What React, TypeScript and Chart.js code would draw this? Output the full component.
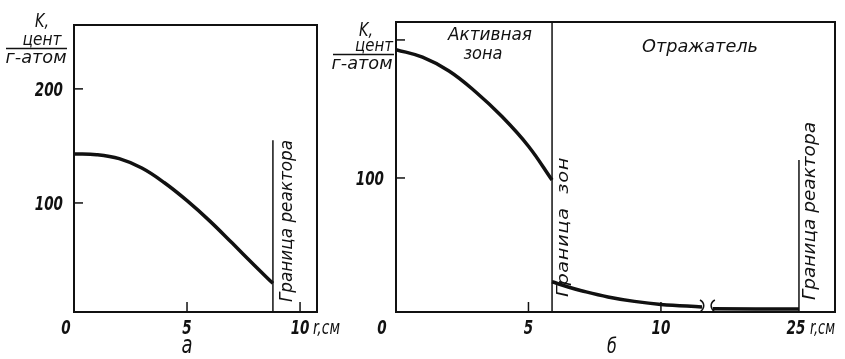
import React, { useEffect, useRef } from 'react';
import { Chart, registerables } from 'chart.js';
Chart.register(...registerables);

// ---------- Panel а ----------
const rA = [0, 1, 2, 3, 4, 5, 6, 7, 8, 8.8];
const kA = [143, 142.3, 138.8, 130.6, 117.7, 102, 84.3, 64.8, 45, 29.5];
const reactorEdgeA = 8.8;
const reactorEdgeATop = 155;
const yTicksA = [100, 200];
const yTickLabelsA = ['100', '200'];
const xTicksA = [0, 5, 10];
const xTickLabelsA = ['0', '5', '10'];

// ---------- Panel б ----------
const rCore = [0, 1, 2, 3, 4, 5, 5.89];
const kCore = [193, 187.5, 177.5, 162.5, 144.5, 123, 98.5];
const rRefl = [5.89, 6.5, 7, 8, 9, 10, 11.55];
const kRefl = [24.8, 21, 18.3, 13.8, 10.6, 8.4, 6.6];
const rReflFar = [21.75, 25];
const kReflFar = [5.3, 5];
const zoneEdge = 5.89;
const reactorEdgeB = 25;
const reactorEdgeBTop = 113;
const yTicksB = [100, 200];
const yTickLabelsB = ['100', ''];
const xTicksB = [0, 5, 10, 25];
const xTickLabelsB = ['0', '5', '10', '25'];
const breakFrom = 11.55;
const breakTo = 21.75;
const breakGap = 0.41;

const disp = (r: number) => (r <= breakFrom ? r : r - (breakTo - breakFrom) + breakGap);

const FONT = '"DejaVu Sans Condensed", "DejaVu Sans", "Liberation Sans", sans-serif';

type TOpts = { w?: number; align?: CanvasTextAlign; rot?: number; sx?: number; ls?: number; weight?: string };

function txt(ctx: CanvasRenderingContext2D, s: string, x: number, y: number, size: number, o: TOpts = {}) {
  const { w, align = 'center', rot = 0, sx = 0.85, ls = 0, weight = 'normal' } = o;
  ctx.save();
  ctx.font = `italic ${weight} ${size}px ${FONT}`;
  try { (ctx as any).fontStretch = 'condensed'; } catch (e) {}
  try { (ctx as any).letterSpacing = `${ls}px`; } catch (e) {}
  ctx.fillStyle = '#111';
  ctx.textBaseline = 'alphabetic';
  ctx.textAlign = align;
  ctx.translate(x, y);
  if (rot) ctx.rotate(rot);
  if (w) {
    const m = ctx.measureText(s).width;
    ctx.scale(w / m, 1);
  } else {
    ctx.scale(sx, 1);
  }
  ctx.fillText(s, 0, 0);
  ctx.restore();
}

function num(ctx: CanvasRenderingContext2D, s: string, x: number, y: number, align: CanvasTextAlign = 'center') {
  txt(ctx, s, x, y, 20, { align, sx: 0.75, weight: 'bold' });
}

function line(ctx: CanvasRenderingContext2D, x1: number, y1: number, x2: number, y2: number, lw = 1.5) {
  ctx.save();
  ctx.strokeStyle = '#111';
  ctx.lineWidth = lw;
  ctx.beginPath();
  ctx.moveTo(x1, y1);
  ctx.lineTo(x2, y2);
  ctx.stroke();
  ctx.restore();
}

const curveStyle = {
  borderColor: '#111',
  borderWidth: 3.5,
  pointRadius: 0,
  tension: 0.4,
  fill: false,
};
const thinStyle = {
  borderColor: '#111',
  borderWidth: 1.5,
  pointRadius: 0,
  fill: false,
};

function frame(ctx: CanvasRenderingContext2D, ca: any) {
  ctx.save();
  ctx.strokeStyle = '#111';
  ctx.lineWidth = 2;
  ctx.strokeRect(ca.left, ca.top, ca.right - ca.left, ca.bottom - ca.top);
  ctx.restore();
}

const pluginA = {
  id: 'decorA',
  afterDraw(chart: any) {
    const { ctx, chartArea: ca, scales } = chart;
    const x = scales.x, y = scales.y;
    frame(ctx, ca);
    yTicksA.forEach((v, i) => {
      const py = y.getPixelForValue(v);
      line(ctx, ca.left, py, ca.left + 9, py, 1.5);
      num(ctx, yTickLabelsA[i], ca.left - 11, py + 7, 'right');
    });
    xTicksA.forEach((v, i) => {
      const px = x.getPixelForValue(v);
      if (v > 0) line(ctx, px, ca.bottom, px, ca.bottom - 10, 1.5);
      const cx = v === 0 ? px - 8 : px;
      num(ctx, xTickLabelsA[i], cx, 334);
    });
    txt(ctx, 'r,см', x.getPixelForValue(10) + 13, 334, 19, { align: 'left', w: 27 });
    txt(ctx, 'а', x.getPixelForValue(5), 353, 25, { sx: 0.8 });
    // axis title
    txt(ctx, 'K,', 35, 27, 20, { align: 'left', sx: 0.8 });
    txt(ctx, 'цент', 42, 45, 17, { w: 39 });
    line(ctx, 6, 48.5, 67, 48.5, 1.5);
    txt(ctx, 'г-атом', 36, 63, 17, { w: 61 });
    // reactor edge label
    const bx = x.getPixelForValue(reactorEdgeA);
    txt(ctx, 'Граница реактора', bx + 19, 221, 17, { w: 162, rot: -Math.PI / 2 });
  },
};

const pluginB = {
  id: 'decorB',
  afterDraw(chart: any) {
    const { ctx, chartArea: ca, scales } = chart;
    const x = scales.x, y = scales.y;
    frame(ctx, ca);
    yTicksB.forEach((v, i) => {
      const py = y.getPixelForValue(v);
      line(ctx, ca.left, py, ca.left + 9, py, 1.5);
      if (yTickLabelsB[i]) num(ctx, yTickLabelsB[i], ca.left - 12, py + 7, 'right');
    });
    xTicksB.forEach((v, i) => {
      const px = x.getPixelForValue(disp(v));
      if (v > 0 && v < 25) line(ctx, px, ca.bottom, px, ca.bottom - 10, 1.5);
      const cx = v === 0 ? px - 14 : px - (v === 25 ? 3 : 0);
      num(ctx, xTickLabelsB[i], cx, 334);
    });
    txt(ctx, 'r,см', x.getPixelForValue(disp(25)) + 11, 334, 19, { align: 'left', w: 25 });
    txt(ctx, 'б', 612 - 330, 353, 22, { sx: 0.8 });
    // axis title
    txt(ctx, 'K,', 29, 36, 20, { align: 'left', sx: 0.8 });
    txt(ctx, 'цент', 44, 51, 17, { w: 38 });
    line(ctx, 3, 54.5, 64, 54.5, 1.5);
    txt(ctx, 'г-атом', 32, 69, 17, { w: 61 });
    // break marks
    const b1 = x.getPixelForValue(breakFrom);
    const b2 = x.getPixelForValue(breakFrom + breakGap);
    [[b1, 1], [b2, -1]].forEach(([bx, d]) => {
      ctx.save();
      ctx.strokeStyle = '#111';
      ctx.lineWidth = 1.5;
      ctx.beginPath();
      ctx.moveTo(bx - 2 * d, 300);
      ctx.bezierCurveTo(bx + 3 * d, 303, bx + 3 * d, 308, bx - 2 * d, 312);
      ctx.stroke();
      ctx.restore();
    });
    // zone labels
    const zx = x.getPixelForValue(zoneEdge);
    txt(ctx, 'Активная', 490 - 330, 40, 17, { w: 84 });
    txt(ctx, 'зона', 483 - 330, 59, 17, { w: 39 });
    txt(ctx, 'Отражатель', 700 - 330, 52, 18, { w: 116 });
    txt(ctx, 'Граница  зон', zx + 16, 227, 16, { w: 140, ls: 0.5, rot: -Math.PI / 2 });
    const rx = x.getPixelForValue(disp(reactorEdgeB));
    txt(ctx, 'Граница реактора', rx + 16, 211, 17, { w: 178, rot: -Math.PI / 2 });
  },
};

function PanelA() {
  const ref = useRef<HTMLCanvasElement>(null);
  useEffect(() => {
    const chart = new Chart(ref.current!, {
      type: 'line',
      data: {
        datasets: [
          { ...curveStyle, data: rA.map((r, i) => ({ x: r, y: kA[i] })) },
          { ...thinStyle, data: [{ x: reactorEdgeA, y: 0 }, { x: reactorEdgeA, y: reactorEdgeATop }] },
        ],
      },
      options: {
        responsive: false,
        animation: false,
        layout: { padding: { left: 74, right: 28, top: 25, bottom: 47 } },
        plugins: { legend: { display: false }, tooltip: { enabled: false } },
        scales: {
          x: { type: 'linear', min: 0, max: 10.75, display: false },
          y: { type: 'linear', min: 4.4, max: 256, display: false },
        },
      },
      plugins: [pluginA],
    });
    return () => chart.destroy();
  }, []);
  return <canvas ref={ref} width={345} height={359} style={{ position: 'absolute', left: 0, top: 0 }} />;
}

function PanelB() {
  const ref = useRef<HTMLCanvasElement>(null);
  useEffect(() => {
    const chart = new Chart(ref.current!, {
      type: 'line',
      data: {
        datasets: [
          { ...curveStyle, data: rCore.map((r, i) => ({ x: disp(r), y: kCore[i] })) },
          { ...curveStyle, data: rRefl.map((r, i) => ({ x: disp(r), y: kRefl[i] })) },
          { ...curveStyle, data: rReflFar.map((r, i) => ({ x: disp(r), y: kReflFar[i] })) },
          { ...thinStyle, data: [{ x: zoneEdge, y: 0 }, { x: zoneEdge, y: 300 }] },
          { ...thinStyle, data: [{ x: disp(reactorEdgeB), y: 0 }, { x: disp(reactorEdgeB), y: reactorEdgeBTop }] },
        ],
      },
      options: {
        responsive: false,
        animation: false,
        layout: { padding: { left: 66, right: 10, top: 22, bottom: 47 } },
        plugins: { legend: { display: false }, tooltip: { enabled: false } },
        scales: {
          x: { type: 'linear', min: 0, max: 16.57, display: false },
          y: { type: 'linear', min: 2.9, max: 213, display: false },
        },
      },
      plugins: [pluginB],
    });
    return () => chart.destroy();
  }, []);
  return <canvas ref={ref} width={515} height={359} style={{ position: 'absolute', left: 330, top: 0 }} />;
}

export default function App() {
  useEffect(() => {
    document.body.style.margin = '0';
    document.body.style.background = '#fff';
  }, []);
  return (
    <div style={{ position: 'relative', width: 845, height: 359, background: '#fff', overflow: 'hidden' }}>
      <PanelA />
      <PanelB />
    </div>
  );
}
